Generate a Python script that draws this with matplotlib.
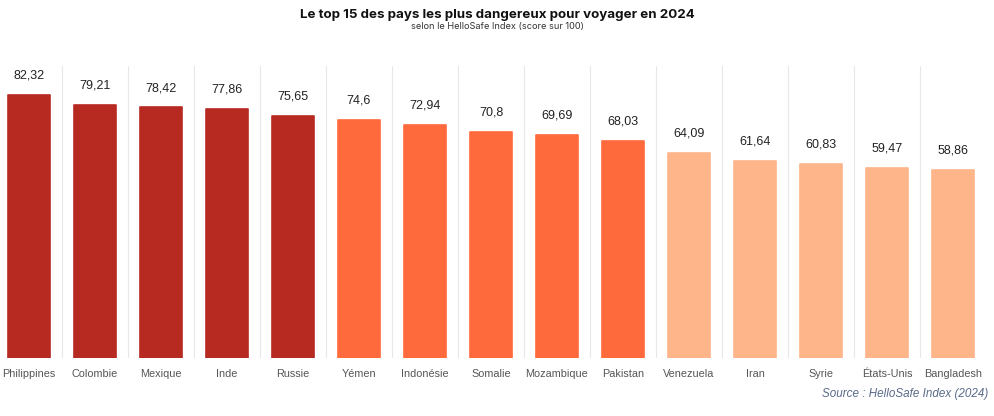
import matplotlib
matplotlib.use("Agg")
import matplotlib.pyplot as plt

countries = ["Philippines", "Colombie", "Mexique", "Inde", "Russie", "Yémen", "Indonésie",
             "Somalie", "Mozambique", "Pakistan", "Venezuela", "Iran", "Syrie", "États-Unis", "Bangladesh"]
scores = [82.32, 79.21, 78.42, 77.86, 75.65, 74.6, 72.94, 70.8, 69.69, 68.03,
          64.09, 61.64, 60.83, 59.47, 58.86]
groups = [0, 0, 0, 0, 0, 1, 1, 1, 1, 1, 2, 2, 2, 2, 2]
palette = ["#B72A22", "#FF6A3D", "#FFB58A"]

fig = plt.figure(figsize=(9.94, 4.16), dpi=100)
fig.patch.set_facecolor("white")
ax = fig.add_axes([0, 58/416, 986/994, 292/416])

x = list(range(len(countries)))
colors = [palette[g] for g in groups]
bars = ax.bar(x, scores, width=0.645, color=colors, edgecolor=colors, linewidth=1.2,
              joinstyle="round", zorder=3)

for xi, v in zip(x, scores):
    ax.text(xi, v + 4.2, f"{v:g}".replace(".", ","), ha="center", va="bottom",
            fontsize=9, color="#222222", family="Liberation Sans")

ax.set_xlim(-0.5 + 4/66, 14.5)
ax.set_ylim(0, 91.4)
for b in range(len(countries)):
    ax.axvline(b + 0.5, color="#E8E8E8", linewidth=0.8, zorder=1)
ax.axhline(0, color="#DDDDDD", linewidth=0.8, zorder=2)

ax.set_xticks(x)
ax.set_xticklabels(countries, fontsize=7.8, color="#555555", family="Liberation Sans")
ax.tick_params(axis="x", length=0, pad=8)
ax.set_yticks([])
for s in ax.spines.values():
    s.set_visible(False)

fig.text(0.5, 1 - 15/416, "Le top 15 des pays les plus dangereux pour voyager en 2024",
         ha="center", va="center", fontsize=9.6, fontweight="bold", color="#111111",
         family="Inter")
fig.text(0.5, 1 - 27/416, "selon le HelloSafe Index (score sur 100)",
         ha="center", va="center", fontsize=6.6, color="#333333", family="Inter")
fig.text(988/994, 1 - 394/416, "Source : HelloSafe Index (2024)", ha="right", va="center",
         fontsize=8.4, style="italic", color="#5A6A8A", family="Liberation Sans")

fig.savefig("out.png", dpi=100, facecolor="white")
